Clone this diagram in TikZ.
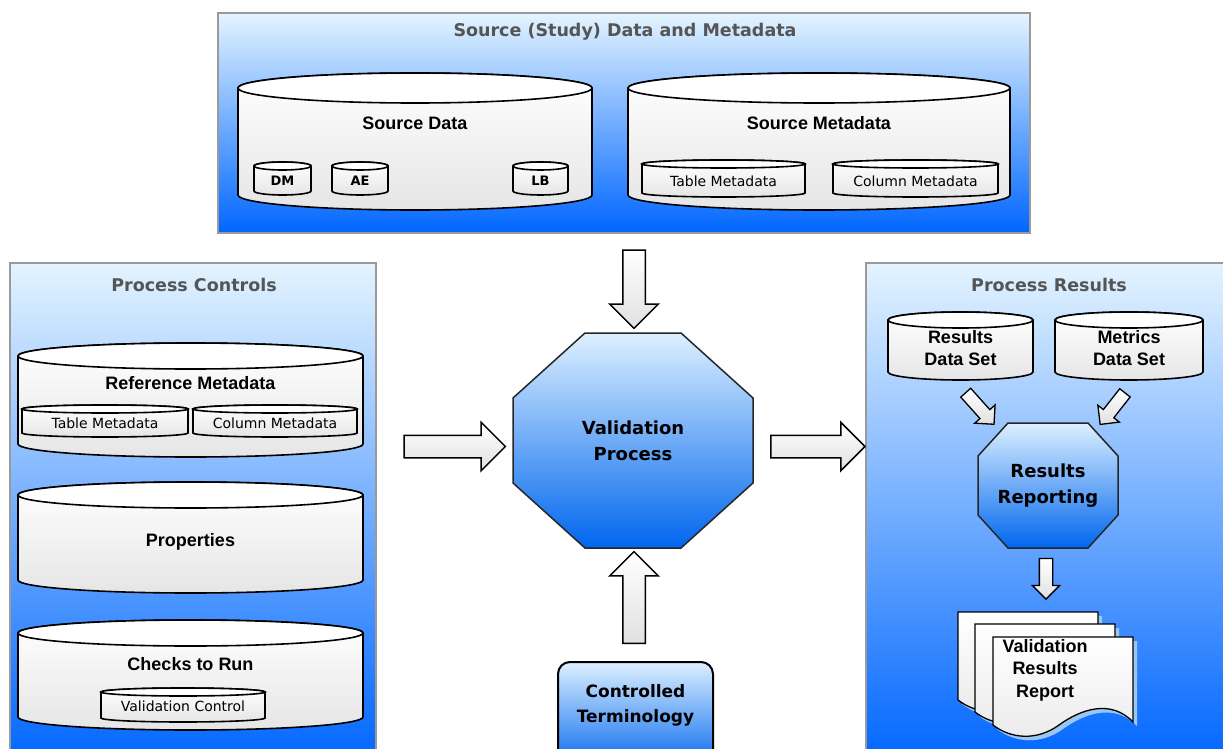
\documentclass[tikz,border=0pt]{standalone}
\usepackage{fontspec}
\setmainfont{Liberation Sans}
\newfontfamily\verdana{DejaVu Sans}
\usepackage{tikz}
\usetikzlibrary{shapes.arrows,calc,positioning}

\definecolor{panelTop}{HTML}{E4F4FF}
\definecolor{panelBot}{HTML}{0066FF}
\definecolor{panelEdge}{HTML}{9A9A9A}
\definecolor{titleGrey}{HTML}{555555}
\definecolor{octTop}{HTML}{DDF0FF}
\definecolor{octBot}{HTML}{0066EE}
\definecolor{docShadow}{HTML}{9CC6F2}

\tikzset{
  panel/.style={draw=panelEdge, line width=1.2pt, top color=panelTop, bottom color=panelBot, inner sep=0pt},
  paneltitle/.style={text=titleGrey, font=\verdana\bfseries\fontsize{17.5}{20}\selectfont},
  cylbody/.style={draw=black, line width=1.6pt, top color=white, bottom color=black!10},
  cyltop/.style={draw=black, line width=1.6pt, fill=white},
  cyllabel/.style={font=\bfseries\fontsize{18}{22}\selectfont, align=center, inner sep=0pt},
  smalllabel/.style={font=\verdana\fontsize{14}{16}\selectfont, inner sep=0pt},
  tinylabel/.style={font=\verdana\bfseries\fontsize{13}{15}\selectfont, inner sep=0pt},
  octbody/.style={draw=black!85, line width=1.5pt, top color=octTop, bottom color=octBot},
  proclabel/.style={font=\verdana\bfseries\fontsize{18}{26}\selectfont, align=center},
  termbox/.style={draw=black, line width=2pt, rounded corners=12pt, top color=octTop, bottom color=octBot},
  bigarrow/.style={single arrow, draw=black, line width=1.5pt, top color=white, bottom color=black!12,
    inner xsep=0pt, inner ysep=10.5pt, single arrow head extend=13pt},
  smallarrow/.style={single arrow, draw=black, line width=1.3pt, top color=white, bottom color=black!12,
    inner xsep=0pt, inner ysep=6pt, single arrow head extend=7pt},
  docbody/.style={draw=black, line width=1.3pt, top color=white, bottom color=black!8},
  docshadow/.style={fill=docShadow}
}

% database drum: name, left, top, right, bottom, ry
\newcommand{\dbcyl}[6]{%
  \path[cylbody] (#2,#3+#6) -- (#2,#5-#6)
    arc[start angle=180, end angle=0, x radius={(#4-#2)/2}, y radius=#6]
    -- (#4,#3+#6)
    arc[start angle=0, end angle=-180, x radius={(#4-#2)/2}, y radius=#6] -- cycle;
  \draw[cyltop] ({(#2+#4)/2},#3+#6) ellipse[x radius={(#4-#2)/2}, y radius=#6];
  \node[inner sep=0pt, minimum width={(#4-#2)*1pt}, minimum height={(#5-#3)*1pt}] (#1) at ({(#2+#4)/2},{(#3+#5)/2}) {};
}

% octagon: name, left, top, right, bottom, cut x, cut y, text
\newcommand{\octo}[8]{%
  \path[octbody] (#2+#6,#3) -- (#4-#6,#3) -- (#4,#3+#7) -- (#4,#5-#7) -- (#4-#6,#5)
    -- (#2+#6,#5) -- (#2,#5-#7) -- (#2,#3+#7) -- cycle;
  \node[proclabel, inner sep=0pt, minimum width={(#4-#2)*1pt}, minimum height={(#5-#3)*1pt}] (#1) at ({(#2+#4)/2},{(#3+#5)/2}) {#8};
}

% block arrow between two points: name, style, from, to
\newcommand{\blockarrow}[4]{%
  \path let \p1=#3, \p2=#4 in
    node[#2, minimum height={veclen(\x2-\x1,\y2-\y1)}, rotate={atan2(\y2-\y1,\x2-\x1)}] (#1) at ($(\p1)!0.5!(\p2)$) {};
}

% report sheet: left, top
\newcommand{\docpage}[2]{%
  \fill[docshadow] (#1+4,#2+4) -- (#1+144,#2+4) -- (#1+144,#2+89) .. controls (#1+122,#2+66) and (#1+92,#2+76) .. (#1+70,#2+92)
    .. controls (#1+48,#2+108) and (#1+22,#2+106) .. (#1+4,#2+92) -- cycle;
  \path[docbody] (#1,#2) -- (#1+140,#2) -- (#1+140,#2+85) .. controls (#1+118,#2+62) and (#1+88,#2+72) .. (#1+66,#2+88)
    .. controls (#1+44,#2+104) and (#1+18,#2+102) .. (#1,#2+88) -- cycle;
}

\begin{document}
\begin{tikzpicture}[x=1pt, y=-1pt]
\clip (0,0) rectangle (1223,749);

% panels
\node[panel, minimum width=812pt, minimum height=220pt] (srcpanel) at (624,123) {};
\node[paneltitle] (srctitle) at (625,32) {Source (Study) Data and Metadata};
\node[panel, minimum width=366pt, minimum height=500pt] (ctrlpanel) at (193,513) {};
\node[paneltitle] (ctrltitle) at (194,285) {Process Controls};
\node[panel, minimum width=370pt, minimum height=500pt] (respanel) at (1051,513) {};
\node[paneltitle] (restitle) at (1049,285) {Process Results};

% source data
\dbcyl{srcdata}{238}{73}{592}{210}{15}
\node[cyllabel] (srcdatatxt) at (415,123) {Source Data};
\dbcyl{dm}{254}{162}{311}{195}{4}
\node[tinylabel] (dmtxt) at (282.5,181) {DM};
\dbcyl{ae}{332}{162}{388}{195}{4}
\node[tinylabel] (aetxt) at (360,181) {AE};
\dbcyl{lb}{513}{162}{568}{195}{4}
\node[tinylabel] (lbtxt) at (540.5,181) {LB};

% source metadata
\dbcyl{srcmeta}{628}{73}{1010}{210}{15}
\node[cyllabel] (srcmetatxt) at (819,123) {Source Metadata};
\dbcyl{srctab}{642}{160}{805}{197}{4}
\node[smalllabel] (srctabtxt) at (723.5,181) {Table Metadata};
\dbcyl{srccol}{833}{160}{998}{197}{4}
\node[smalllabel] (srccoltxt) at (915.5,181) {Column Metadata};

% process controls
\dbcyl{refmeta}{18}{343}{363}{457}{13}
\node[cyllabel] (refmetatxt) at (190.5,383) {Reference Metadata};
\dbcyl{reftab}{22}{405}{188}{437}{4}
\node[smalllabel] (reftabtxt) at (105,423) {Table Metadata};
\dbcyl{refcol}{193}{405}{357}{437}{4}
\node[smalllabel] (refcoltxt) at (275,423) {Column Metadata};
\dbcyl{props}{18}{482}{363}{593}{13}
\node[cyllabel] (propstxt) at (190.5,542) {Properties};
\dbcyl{checks}{18}{620}{363}{730}{13}
\node[cyllabel] (checkstxt) at (190.5,664) {Checks to Run};
\dbcyl{valctrl}{101}{688}{265}{722}{4}
\node[smalllabel] (valctrltxt) at (183,706) {Validation Control};

% centre
\octo{valid}{513}{333}{753}{548}{72}{65}{Validation\\Process}
\node[termbox, minimum width=155pt, minimum height=108pt] (term) at (635.5,716) {};
\node[proclabel, font=\verdana\bfseries\fontsize{17}{25}\selectfont] (termtxt) at ($(term.north)+(0,44)$) {Controlled\\Terminology};

% process results
\dbcyl{resds}{888}{312}{1033}{380}{8}
\node[cyllabel] (resdstxt) at (960.5,348) {Results\\Data Set};
\dbcyl{metds}{1055}{312}{1203}{380}{8}
\node[cyllabel] (metdstxt) at (1129,348) {Metrics\\Data Set};
\octo{report}{978}{423}{1118}{548}{30}{33}{Results\\Reporting}
\docpage{958}{612}
\docpage{975}{624}
\docpage{993}{637}
\node[inner sep=0pt, minimum width=180pt, minimum height=124pt] (doc) at (1048,674) {};
\node[cyllabel, font=\bfseries\fontsize{18}{22.5}\selectfont] (doctxt) at (1045,670) {Validation\\Results\\Report};

% block arrows
\blockarrow{a1}{bigarrow}{($(valid.north |- srcpanel.south)+(1,11)$)}{($(valid.north)+(1,-10)$)}
\blockarrow{a2}{bigarrow}{($(ctrlpanel.east |- valid.center)+(22,6)$)}{($(valid.west)+(-13,6)$)}
\blockarrow{a3}{bigarrow}{($(valid.east)+(12,6)$)}{($(respanel.west |- valid.center)+(-6,6)$)}
\blockarrow{a4}{bigarrow}{($(valid.south |- term.north)+(1,-12)$)}{($(valid.south)+(1,9)$)}
\blockarrow{a5}{smallarrow}{($(resds.south)+(3,10)$)}{($(report.north west)+(14,-1)$)}
\blockarrow{a6}{smallarrow}{($(metds.south)+(-2,10)$)}{($(report.north east)+(-16,-1)$)}
\blockarrow{a7}{smallarrow}{($(report.south)+(-2,7)$)}{($(doc.north)+(-2,-16)$)}
\end{tikzpicture}
\end{document}
